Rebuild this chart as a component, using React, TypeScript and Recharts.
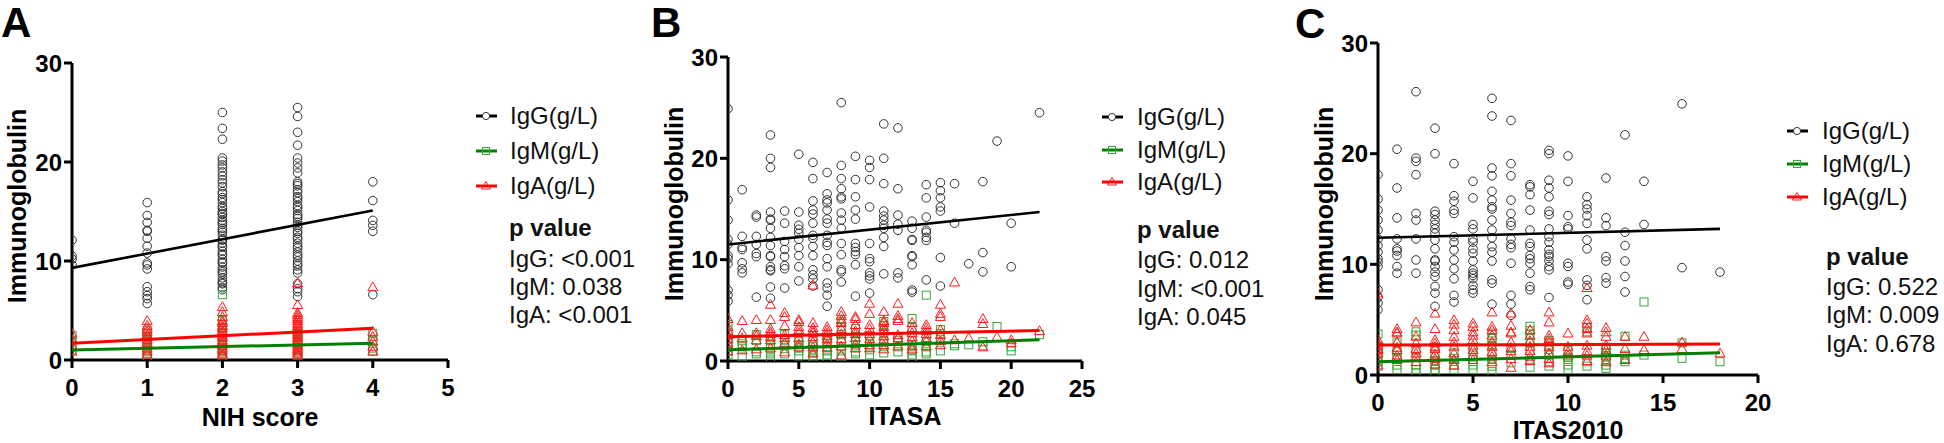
import React from 'react';
import { ScatterChart, Scatter, XAxis, YAxis } from 'recharts';

const FONT = '"Liberation Sans", Arial, Helvetica, sans-serif';

// ---------- Panel A : NIH score (column index = score) ----------
const aIgG: number[][] = [
  [12.1, 10.5, 10.2, 9.6],
  [15.9, 14.6, 13.9, 13.1, 13.0, 12.3, 11.5, 10.8, 9.8, 9.6, 9.2, 7.4, 6.9, 6.5, 6.2, 5.7],
  [25.0, 23.4, 22.3, 20.4, 20.1, 19.7, 19.4, 19.0, 18.6, 18.2, 17.9, 17.5, 17.0, 16.8, 16.4, 16.2, 15.9, 15.5, 15.3, 15.0, 14.8, 14.7, 14.4, 14.1, 13.9, 13.7, 13.3, 13.1, 12.9, 12.6, 12.2, 12.1, 11.8, 11.5, 11.4, 11.0, 10.7, 10.6, 10.2, 9.9, 9.8, 9.4, 9.1, 8.9, 8.7, 8.3, 8.0, 7.8, 7.7, 7.3, 7.1],
  [25.5, 24.6, 23.0, 21.7, 20.4, 19.9, 19.4, 18.9, 18.0, 17.8, 17.6, 17.2, 16.9, 16.5, 16.3, 16.0, 15.6, 15.4, 15.1, 14.7, 14.5, 14.3, 13.9, 13.6, 13.4, 13.0, 12.8, 12.4, 12.2, 11.8, 11.5, 11.3, 10.9, 10.6, 10.4, 10.0, 9.7, 9.5, 9.1, 8.8, 7.7, 7.2, 6.9, 6.4],
  [18.0, 16.1, 14.1, 13.6, 13.0, 6.6],
];
const aIgM: number[][] = [
  [2.5, 2.0, 1.5, 1.0],
  [3.0, 2.7, 2.3, 2.0, 1.6, 1.3, 1.0, 0.7, 0.3],
  [6.6, 4.0, 3.6, 3.3, 3.0, 2.7, 2.4, 2.1, 1.8, 1.5, 1.2, 0.9, 0.6, 0.3, 0.1],
  [3.5, 3.2, 2.9, 2.6, 2.3, 2.0, 1.8, 1.5, 1.2, 1.0, 0.7, 0.4, 0.2],
  [2.7, 2.0, 1.2, 0.9],
];
const aIgA: number[][] = [
  [2.7, 2.1, 1.5, 0.9],
  [4.0, 3.5, 3.2, 2.9, 2.6, 2.4, 2.1, 1.8, 1.5, 1.2, 0.9, 0.6],
  [5.4, 4.9, 4.4, 4.0, 3.8, 3.5, 3.3, 3.0, 2.8, 2.5, 2.3, 2.0, 1.8, 1.5, 1.2, 1.0, 0.7, 0.5],
  [7.8, 5.6, 4.8, 4.6, 4.4, 4.2, 4.0, 3.7, 3.5, 3.3, 3.1, 2.9, 2.7, 2.5, 2.3, 2.1, 1.9, 1.7, 1.5, 1.3, 1.1, 0.9, 0.7, 0.5],
  [7.4, 2.9, 2.4, 1.9, 1.4, 0.9],
];
const aFitG = [{ x: 0, y: 9.3 }, { x: 4, y: 15.1 }];
const aFitM = [{ x: 0, y: 1.0 }, { x: 4, y: 1.7 }];
const aFitA = [{ x: 0, y: 1.7 }, { x: 4, y: 3.2 }];
const aTicks = [0, 1, 2, 3, 4, 5];
const aP = ['IgG: <0.001', 'IgM: 0.038', 'IgA: <0.001'];

// ---------- Panel B : ITASA (column index = score) ----------
const bIgG: number[][] = [
  [24.9, 15.9, 13.9, 12.0, 11.5, 10.4, 10.1, 9.6, 7.0, 6.5, 5.9],
  [16.9, 12.3, 11.2, 11.0, 9.7, 9.1, 8.7],
  [14.4, 14.2, 12.3, 11.5, 10.6, 10.3, 6.3],
  [22.3, 20.0, 19.1, 14.7, 14.0, 13.9, 13.1, 12.2, 11.4, 10.4, 10.3, 9.3, 9.0, 8.9, 7.3, 6.2],
  [14.8, 13.6, 11.8, 11.0, 10.3, 9.4, 9.1, 7.2],
  [20.4, 14.7, 13.4, 13.0, 12.6, 12.0, 11.2, 10.4, 9.3, 7.9],
  [19.6, 18.0, 15.8, 14.9, 14.5, 13.6, 12.4, 12.1, 11.3, 10.4, 9.0, 8.5, 8.1, 7.4],
  [18.6, 16.5, 15.9, 15.6, 14.9, 14.0, 13.6, 12.4, 11.7, 11.4, 10.1, 9.3, 7.7, 7.2, 6.5, 5.4],
  [25.5, 19.3, 18.0, 17.0, 16.2, 16.0, 14.6, 13.9, 13.1, 11.6, 10.5, 9.0, 8.8, 7.8],
  [20.2, 17.9, 16.2, 14.9, 14.0, 11.6, 11.2, 10.8, 10.5, 9.5, 6.4],
  [19.8, 19.1, 17.9, 15.2, 11.6, 10.1, 9.8, 8.7, 8.4, 8.1, 6.7],
  [23.4, 20.0, 17.5, 14.8, 14.3, 13.9, 13.4, 13.1, 12.2, 11.3, 8.6],
  [23.0, 17.0, 14.4, 13.5, 12.9, 8.7, 8.2],
  [13.8, 13.1, 12.0, 11.9, 10.4, 10.3, 9.5, 7.0, 6.8],
  [17.4, 16.1, 14.2, 12.9, 12.7, 12.2, 11.9, 8.0],
  [17.6, 16.8, 16.1, 15.2, 14.8, 10.2, 7.4],
  [17.5, 13.6],
  [9.6],
  [17.7, 10.7, 8.8],
  [21.7],
  [13.6, 9.3],
  [],
  [24.5],
];
const bIgM: number[][] = [
  [3.6, 2.8, 2.2, 1.8, 1.4, 1.0, 0.6],
  [2.0, 1.7, 1.4, 0.4],
  [2.6, 2.0, 0.9, 0.7],
  [2.1, 1.7, 1.5, 1.2, 0.7, 0.3, 0.1],
  [2.6, 2.1, 1.6, 1.2, 0.7],
  [1.9, 1.6, 1.3, 1.0, 0.5],
  [1.9, 1.6, 1.4, 1.1, 0.8, 0.5, 0.2],
  [2.3, 1.9, 1.4, 1.0, 0.6, 0.3],
  [3.9, 3.4, 2.6, 2.0, 1.4, 1.0, 0.4],
  [3.2, 2.8, 2.4, 1.9, 1.3, 0.9, 0.7],
  [2.5, 2.2, 1.6, 1.1, 0.6],
  [3.9, 3.5, 2.8, 1.9, 1.4, 0.8],
  [2.3, 2.0, 1.4, 0.9],
  [4.2, 3.3, 2.4, 1.6, 1.0, 0.6, 0.3],
  [6.5, 1.9, 1.4, 0.9, 0.7],
  [3.1, 2.7, 2.1, 1.0],
  [1.7, 1.5],
  [1.6],
  [1.9, 1.5],
  [3.4],
  [1.4, 1.0],
  [],
  [2.6],
];
const bIgA: number[][] = [
  [4.2, 3.4, 3.0, 2.6, 2.2, 1.8, 1.4, 1.0],
  [4.0, 2.8, 2.3, 1.1],
  [4.1, 2.8, 2.5, 2.1, 1.2],
  [5.6, 4.1, 3.2, 2.9, 2.7, 2.4, 2.1, 1.3],
  [4.8, 4.4, 3.5, 2.6, 2.3, 1.8, 0.9],
  [4.1, 3.9, 3.4, 3.1, 2.8, 2.3, 1.7, 1.4],
  [7.5, 3.8, 3.3, 3.0, 2.8, 2.4, 1.9, 1.4, 0.8],
  [3.4, 3.1, 2.8, 2.5, 2.2, 1.7, 1.3],
  [4.9, 4.5, 4.1, 3.8, 3.2, 2.7, 2.2, 1.5, 0.6],
  [4.4, 4.2, 3.6, 3.0, 2.7, 2.3, 1.7, 1.3],
  [5.7, 4.7, 3.6, 3.2, 2.7, 2.2, 1.6, 1.3],
  [4.9, 4.0, 3.8, 3.4, 3.0, 2.5, 2.1, 1.6, 1.2],
  [5.7, 4.5, 4.2, 4.0, 2.6, 2.3, 1.5],
  [3.8, 3.3, 2.8, 2.4, 2.0, 1.5, 1.2],
  [3.6, 3.3, 3.0, 2.7, 2.3, 2.0, 1.5],
  [5.6, 4.7, 4.4, 3.1, 2.6, 2.0, 1.6],
  [7.8, 2.1],
  [2.3],
  [4.2, 3.7, 1.4],
  [2.4],
  [2.1, 1.8],
  [],
  [3.0],
];
const bFitG = [{ x: 0, y: 11.5 }, { x: 22, y: 14.7 }];
const bFitM = [{ x: 0, y: 1.1 }, { x: 22, y: 2.1 }];
const bFitA = [{ x: 0, y: 2.4 }, { x: 22, y: 3.0 }];
const bTicks = [0, 5, 10, 15, 20, 25];
const bP = ['IgG: 0.012', 'IgM: <0.001', 'IgA: 0.045'];

// ---------- Panel C : ITAS2010 (column index = score) ----------
const cIgG: number[][] = [
  [18.1, 15.9, 14.9, 14.0, 13.1, 12.3, 11.7, 11.1, 10.5, 10.2, 9.8, 7.7, 7.0, 6.5, 5.9],
  [20.4, 16.9, 14.2, 12.3, 11.4, 11.2, 10.8, 9.8, 9.2],
  [25.6, 19.6, 19.3, 18.1, 14.6, 14.0, 12.3, 10.4, 9.2],
  [22.3, 20.0, 14.8, 14.5, 14.0, 13.6, 13.2, 12.8, 12.2, 11.4, 10.4, 10.3, 9.8, 9.3, 8.9, 8.0, 7.4, 6.2],
  [19.1, 16.2, 15.7, 14.9, 14.6, 12.5, 12.0, 11.3, 10.4, 9.6, 8.7, 7.2, 6.6],
  [17.5, 16.0, 13.6, 13.2, 12.3, 12.0, 11.4, 11.0, 10.3, 9.5, 9.2, 9.0, 8.7, 8.1, 7.7, 7.4],
  [25.0, 23.4, 18.7, 18.0, 16.6, 15.8, 15.2, 15.0, 14.0, 13.1, 12.4, 11.6, 11.1, 10.3, 8.6, 8.3, 6.4],
  [23.0, 19.1, 18.0, 15.8, 14.6, 13.8, 13.5, 12.3, 11.8, 11.5, 10.1, 7.2, 6.4, 5.4],
  [17.2, 17.0, 16.3, 14.9, 13.1, 11.9, 11.6, 10.8, 10.5, 10.1, 9.2, 8.0, 7.7],
  [20.3, 20.0, 17.6, 16.9, 16.1, 14.8, 14.5, 13.2, 12.5, 12.0, 11.3, 10.9, 10.7, 10.3, 9.8, 9.5, 7.0],
  [19.8, 17.5, 14.4, 13.4, 13.2, 10.1, 9.8, 8.4, 8.2],
  [16.1, 15.4, 15.0, 14.4, 13.7, 12.2, 11.4, 8.6, 8.1, 6.8],
  [17.8, 14.2, 13.5, 10.7, 10.3, 8.8, 8.3],
  [21.7, 12.9, 11.7, 10.3, 8.9, 7.5],
  [17.5, 13.6],
  [],
  [24.5, 9.7],
  [],
  [9.3],
];
const cIgM: number[][] = [
  [3.7, 2.6, 2.0, 1.5, 1.2, 0.8],
  [2.9, 2.1, 1.5, 0.9, 0.5],
  [3.9, 3.6, 2.2, 1.6, 0.9, 0.5, 0.2],
  [1.8, 1.3, 0.9, 0.5, 0.2],
  [2.0, 1.5, 0.9, 0.5],
  [2.3, 1.8, 1.4, 0.9, 0.5],
  [3.8, 3.3, 2.7, 2.0, 1.4, 0.8, 0.3],
  [2.4, 1.8, 1.1],
  [4.4, 4.0, 3.7, 2.9, 2.2, 1.3, 0.7],
  [3.1, 2.7, 2.3, 1.8, 1.2, 0.8],
  [2.2, 1.6, 1.4, 0.9, 0.5],
  [4.3, 3.9, 1.2, 0.8],
  [2.5, 2.0, 1.7, 1.4, 0.9, 0.6],
  [3.5, 1.8, 1.5, 1.2],
  [6.6, 1.8],
  [],
  [2.9, 1.5],
  [],
  [1.2],
];
const cIgA: number[][] = [
  [7.4, 3.2, 2.9, 2.7, 2.4, 2.3, 2.0, 1.5, 0.9],
  [4.2, 3.9, 3.8, 3.0, 2.5, 2.3, 1.8, 1.4],
  [4.8, 3.5, 2.9, 2.4, 2.0, 1.6, 1.2],
  [5.6, 4.2, 3.2, 2.9, 2.6, 2.4, 1.9, 1.5, 1.0],
  [5.0, 4.6, 4.1, 3.5, 3.0, 2.6, 2.0, 1.4, 0.9],
  [4.7, 4.4, 3.9, 3.6, 3.2, 2.7, 2.3, 1.8, 1.4],
  [5.7, 4.4, 4.1, 3.6, 3.0, 2.6, 2.1, 1.7, 1.2],
  [5.6, 4.5, 3.9, 3.8, 3.0, 2.5, 2.2, 1.5, 0.7],
  [4.1, 3.6, 3.1, 2.6, 2.2, 1.7, 1.3],
  [5.7, 4.8, 3.6, 3.3, 3.0, 2.6, 2.0, 1.5, 1.1],
  [3.8, 2.6, 2.1, 1.8],
  [7.9, 5.0, 4.7, 4.2, 3.8, 2.7, 2.2, 1.8, 1.3],
  [4.3, 3.9, 3.5, 2.7, 2.3, 1.8, 1.2],
  [3.5, 2.4, 1.4],
  [3.5, 2.3],
  [],
  [3.0, 2.4],
  [],
  [2.0],
];
const cFitG = [{ x: 0, y: 12.4 }, { x: 18, y: 13.2 }];
const cFitM = [{ x: 0, y: 1.2 }, { x: 18, y: 2.0 }];
const cFitA = [{ x: 0, y: 2.7 }, { x: 18, y: 2.8 }];
const cTicks = [0, 5, 10, 15, 20];
const cP = ['IgG: 0.522', 'IgM: 0.009', 'IgA: 0.678'];

const yTicks = [0, 10, 20, 30];
const seriesNames = ['IgG(g/L)', 'IgM(g/L)', 'IgA(g/L)'];

const C_G = '#333333';
const C_M = '#3aa53a';
const C_A = '#ff1a1a';
const L_G = '#000000';
const L_M = '#008000';
const L_A = '#ff0000';

const toPoints = (cols: number[][]) =>
  cols.flatMap((ys, i) => ys.map((y) => ({ x: i, y })));

const CircleShape = (p: any) => (
  <circle cx={p.cx} cy={p.cy} r={4.3} fill="none" stroke={C_G} strokeWidth={1} />
);
const SquareShape = (p: any) => (
  <rect x={p.cx - 4} y={p.cy - 4} width={8} height={8} fill="none" stroke={C_M} strokeWidth={1} />
);
const TriShape = (p: any) => (
  <path
    d={`M${p.cx},${p.cy - 4.8} L${p.cx + 5},${p.cy + 4} L${p.cx - 5},${p.cy + 4} Z`}
    fill="none"
    stroke={C_A}
    strokeWidth={1}
  />
);
const NoShape = () => <g />;

type PanelCfg = {
  left: number;
  width: number;
  plotLeft: number;
  plotRight: number;
  plotTop: number;
  plotBottom: number;
  xMax: number;
  xTicks: number[];
  xLabel: string;
  xLabelBaseline: number;
  igg: number[][];
  igm: number[][];
  iga: number[][];
  fitG: { x: number; y: number }[];
  fitM: { x: number; y: number }[];
  fitA: { x: number; y: number }[];
};

const axisLine = { stroke: '#000', strokeWidth: 3 };
const tickStyle = { fill: '#000', fontSize: 24, fontWeight: 700, fontFamily: FONT };

function Panel(c: PanelCfg) {
  const H = 443;
  return (
    <div style={{ position: 'absolute', left: c.left, top: 0 }}>
      <ScatterChart
        width={c.width}
        height={H}
        margin={{ top: c.plotTop, right: c.left + c.width - c.plotRight, bottom: 0, left: 0 }}
      >
        <XAxis
          type="number"
          dataKey="x"
          domain={[0, c.xMax]}
          ticks={c.xTicks}
          interval={0}
          allowDataOverflow
          height={H - c.plotBottom}
          tickSize={8}
          tickMargin={11}
          axisLine={axisLine}
          tickLine={axisLine}
          tick={tickStyle}
          label={{
            value: c.xLabel,
            position: 'insideBottom',
            offset: H - c.xLabelBaseline,
            style: { fill: '#000', fontSize: 25, fontWeight: 700, fontFamily: FONT },
          }}
        />
        <YAxis
          type="number"
          dataKey="y"
          domain={[0, 30]}
          ticks={yTicks}
          interval={0}
          allowDataOverflow
          width={c.plotLeft - c.left}
          tickSize={8}
          tickMargin={2}
          axisLine={axisLine}
          tickLine={axisLine}
          tick={tickStyle}
        />
        <Scatter name="IgG(g/L)" data={toPoints(c.igg)} shape={CircleShape} isAnimationActive={false} />
        <Scatter name="IgM(g/L)" data={toPoints(c.igm)} shape={SquareShape} isAnimationActive={false} />
        <Scatter name="IgA(g/L)" data={toPoints(c.iga)} shape={TriShape} isAnimationActive={false} />
        <Scatter data={c.fitG} line={{ stroke: L_G, strokeWidth: 2.6 }} shape={NoShape} isAnimationActive={false} />
        <Scatter data={c.fitM} line={{ stroke: L_M, strokeWidth: 3 }} shape={NoShape} isAnimationActive={false} />
        <Scatter data={c.fitA} line={{ stroke: L_A, strokeWidth: 3 }} shape={NoShape} isAnimationActive={false} />
      </ScatterChart>
    </div>
  );
}

type LegendCfg = {
  symX: number;
  textX: number;
  rows: number[];
  pX: number;
  pRows: number[];
  pvals: string[];
};

function LegendBlock(l: LegendCfg) {
  const cx = l.symX + 10;
  return (
    <g fontFamily={FONT}>
      {l.rows.map((b, i) => {
        const sy = b - 8;
        const col = [L_G, L_M, L_A][i];
        return (
          <g key={i}>
            <line x1={l.symX} x2={l.symX + 21} y1={sy} y2={sy} stroke={col} strokeWidth={3} />
            {i === 0 && <circle cx={cx} cy={sy} r={3.6} fill="#fff" stroke={C_G} strokeWidth={1} />}
            {i === 1 && <rect x={cx - 3.5} y={sy - 3.5} width={7} height={7} fill="none" stroke={C_M} strokeWidth={1} />}
            {i === 2 && (
              <path d={`M${cx},${sy - 4.5} L${cx + 4.5},${sy + 3} L${cx - 4.5},${sy + 3} Z`} fill="none" stroke={C_A} strokeWidth={1} />
            )}
            <text x={l.textX} y={b} fontSize={24} fill="#111">
              {seriesNames[i]}
            </text>
          </g>
        );
      })}
      <text x={l.pX} y={l.pRows[0]} fontSize={24} fontWeight={700} fill="#111">
        p value
      </text>
      {l.pvals.map((t, i) => (
        <text key={t} x={l.pX} y={l.pRows[i + 1]} fontSize={24} fill="#111">
          {t}
        </text>
      ))}
    </g>
  );
}

export default function App() {
  return (
    <div style={{ position: 'absolute', left: 0, top: 0, width: 1944, height: 443, background: '#fff', overflow: 'hidden' }}>
      <Panel
        left={0}
        width={462}
        plotLeft={72}
        plotRight={448}
        plotTop={63}
        plotBottom={360}
        xMax={5}
        xTicks={aTicks}
        xLabel="NIH score"
        xLabelBaseline={426}
        igg={aIgG}
        igm={aIgM}
        iga={aIgA}
        fitG={aFitG}
        fitM={aFitM}
        fitA={aFitA}
      />
      <Panel
        left={660}
        width={437}
        plotLeft={728}
        plotRight={1082}
        plotTop={57}
        plotBottom={361}
        xMax={25}
        xTicks={bTicks}
        xLabel="ITASA"
        xLabelBaseline={425}
        igg={bIgG}
        igm={bIgM}
        iga={bIgA}
        fitG={bFitG}
        fitM={bFitM}
        fitA={bFitA}
      />
      <Panel
        left={1310}
        width={463}
        plotLeft={1378}
        plotRight={1758}
        plotTop={43}
        plotBottom={375}
        xMax={20}
        xTicks={cTicks}
        xLabel="ITAS2010"
        xLabelBaseline={439}
        igg={cIgG}
        igm={cIgM}
        iga={cIgA}
        fitG={cFitG}
        fitM={cFitM}
        fitA={cFitA}
      />
      <svg
        width={1944}
        height={443}
        style={{ position: 'absolute', left: 0, top: 0, pointerEvents: 'none' }}
      >
        <g fontFamily={FONT} fontWeight={700} fill="#000">
          <text x={1} y={37} fontSize={42}>A</text>
          <text x={651} y={37} fontSize={42}>B</text>
          <text x={1295} y={38} fontSize={42}>C</text>
          <text x={26} y={206} fontSize={25} textAnchor="middle" transform="rotate(-90 26 206)">Immunoglobulin</text>
          <text x={683} y={204} fontSize={25} textAnchor="middle" transform="rotate(-90 683 204)">Immunoglobulin</text>
          <text x={1333} y={204} fontSize={25} textAnchor="middle" transform="rotate(-90 1333 204)">Immunoglobulin</text>
        </g>
        <LegendBlock symX={476} textX={510} rows={[124, 159, 194]} pX={509} pRows={[236, 267, 295, 323]} pvals={aP} />
        <LegendBlock symX={1102} textX={1137} rows={[125, 158, 190]} pX={1137} pRows={[238, 268, 297, 325]} pvals={bP} />
        <LegendBlock symX={1787} textX={1822} rows={[139, 172, 205]} pX={1826} pRows={[265, 295, 323, 352]} pvals={cP} />
      </svg>
    </div>
  );
}
